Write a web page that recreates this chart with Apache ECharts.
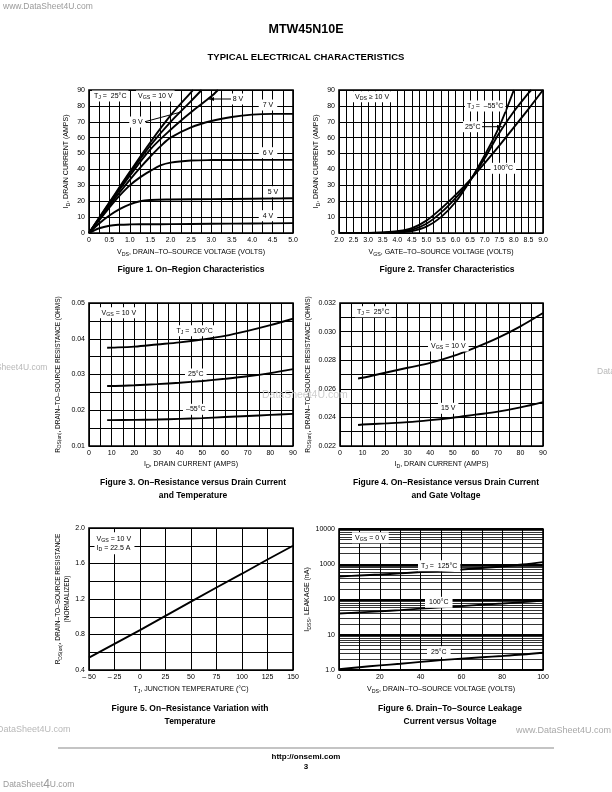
<!DOCTYPE html>
<html><head><meta charset="utf-8">
<script src="https://cdn.jsdelivr.net/npm/echarts@6/dist/echarts.min.js"></script>
<style>html,body{margin:0;padding:0;background:#fff}#c{width:612px;height:792px}</style>
</head><body><div id="c"></div>
<script>
// ---------- Figure 1: On-Region Characteristics ----------
const f1_xticks = ['0','0.5','1.0','1.5','2.0','2.5','3.0','3.5','4.0','4.5','5.0'];
const f1_yticks = ['0','10','20','30','40','50','60','70','80','90'];
const f1_vds_10 = [0,0.5,1.0,1.5,2.0,2.5,2.55];
const f1_id_10  = [0,19.3,38.5,57,74,88.5,90];
const f1_vds_9  = [0,0.5,1.0,1.5,2.0,2.5,2.76];
const f1_id_9   = [0,18.8,37.5,55,70,83,90];
const f1_vds_8  = [0,0.5,1.0,1.5,2.0,2.5,3.0,3.16];
const f1_id_8   = [0,18.2,36,52.5,65,76,86,90];
const f1_vds_7  = [0,0.25,0.5,0.75,1.0,1.25,1.5,1.75,2.0,2.5,3.0,3.5,4.0,4.5,5.0];
const f1_id_7   = [0,8.5,17.3,25.5,33.5,41,48,54.5,60,66.5,70.5,73,74.5,75,75];
const f1_vds_6  = [0,0.25,0.5,0.75,1.0,1.25,1.5,1.75,2.0,2.5,3.0,4.0,5.0];
const f1_id_6   = [0,8,16,23.5,30,35,39,42.5,44.3,45.6,45.9,46,46];
const f1_vds_5  = [0,0.25,0.5,0.75,1.0,1.25,1.5,2.0,3.0,4.0,5.0];
const f1_id_5   = [0,6,11,15,18,20,20.8,21.1,21.3,21.6,21.9];
const f1_vds_4  = [0,0.25,0.5,0.75,1.0,1.5,2.0,3.0,4.0,5.0];
const f1_id_4   = [0,3,4.6,5.2,5.4,5.5,5.6,5.8,6.0,6.2];

// ---------- Figure 2: Transfer Characteristics ----------
const f2_xticks = ['2.0','2.5','3.0','3.5','4.0','4.5','5.0','5.5','6.0','6.5','7.0','7.5','8.0','8.5','9.0'];
const f2_yticks = ['0','10','20','30','40','50','60','70','80','90'];
const f2_vgs_m55 = [2.0,2.5,3.0,3.5,4.0,4.5,5.0,5.5,6.0,6.5,7.0,7.5,8.0];
const f2_id_m55  = [0,0,0.05,0.1,0.3,1.2,4,10,19.5,33,49,67,90];
const f2_vgs_25  = [2.0,2.5,3.0,3.5,4.0,4.5,5.0,5.5,6.0,6.5,7.0,7.5,8.0,8.5,8.6];
const f2_id_25   = [0,0,0.05,0.2,0.6,2,5.8,12.8,22,33,47,63,76.5,88,90];
const f2_vgs_100 = [2.0,2.5,3.0,3.5,4.0,4.5,5.0,5.5,6.0,6.5,7.0,7.5,8.0,8.5,9.0];
const f2_id_100  = [0,0.05,0.1,0.4,1.1,3,7.8,15.3,24,33.5,44,55,66.5,78,90];

// ---------- Figure 3: RDS(on) vs ID and Temperature ----------
const f3_xticks = ['0','10','20','30','40','50','60','70','80','90'];
const f3_yticks = ['0.01','0.02','0.03','0.04','0.05'];
const f3_id   = [8,10,20,30,40,50,60,70,80,90];
const f3_r100 = [0.0375,0.03752,0.0378,0.0384,0.0390,0.0398,0.0408,0.0422,0.0438,0.0456];
const f3_r25  = [0.0268,0.0268,0.0270,0.0273,0.0277,0.0282,0.0288,0.0295,0.0304,0.0315];
const f3_rm55 = [0.01725,0.01725,0.0173,0.0174,0.0176,0.0178,0.0181,0.0184,0.0187,0.0190];

// ---------- Figure 4: RDS(on) vs ID and Gate Voltage ----------
const f4_xticks = ['0','10','20','30','40','50','60','70','80','90'];
const f4_yticks = ['0.022','0.024','0.026','0.028','0.030','0.032'];
const f4_id  = [8,10,20,30,40,50,60,70,80,90];
const f4_v10 = [0.02672,0.02677,0.02712,0.02747,0.02781,0.02828,0.02888,0.02956,0.03037,0.0313];
const f4_v15 = [0.02347,0.0235,0.02358,0.02367,0.02381,0.02398,0.02419,0.0244,0.0247,0.02507];

// ---------- Figure 5: RDS(on) vs Temperature ----------
const f5_xticks = ['\u2013 50','\u2013 25','0','25','50','75','100','125','150'];
const f5_yticks = ['0.4','0.8','1.2','1.6','2.0'];
const f5_tj = [-50,-25,0,25,50,75,100,125,150];
const f5_rn = [0.54,0.695,0.85,1.01,1.17,1.33,1.485,1.645,1.80];

// ---------- Figure 6: IDSS leakage vs VDS ----------
const f6_xticks = ['0','20','40','60','80','100'];
const f6_yticks = ['1.0','10','100','1000','10000'];
const f6_minor = [2,3,4,5,6,7,8,9,20,30,40,50,60,70,80,90,200,300,400,500,600,700,800,900,2000,3000,4000,5000,6000,7000,8000,9000];
const f6_vds  = [0,10,20,30,40,50,60,70,80,90,100];
const f6_i125 = [450,480,510,550,600,650,710,780,860,980,1150];
const f6_i100 = [40,43,46,50,55,60,65,71,77,84,93];
const f6_i25  = [1.05,1.2,1.35,1.5,1.7,1.9,2.1,2.3,2.5,2.75,3.1];

// ---------- helpers ----------
const FONT = '"Liberation Sans", Arial, Helvetica, sans-serif';
const pairs = (xs, ys) => xs.map((x, i) => [x, ys[i]]);
function rich(sz) {
  return {
    n: {fontSize: sz, fontFamily: FONT, color: '#000', lineHeight: sz + 2},
    s: {fontSize: sz * 0.75, fontFamily: FONT, color: '#000', lineHeight: 4, verticalAlign: 'bottom'}
  };
}
const GRID_LINE = {color: '#000', width: 1};
function axis(gi, o) {
  const a = {
    gridIndex: gi, type: o.type || 'value', min: o.min, max: o.max,
    axisLine: {show: false}, axisTick: {show: false},
    splitLine: {show: true, lineStyle: o.splitStyle || GRID_LINE},
    axisLabel: {fontSize: 7, color: '#000', fontFamily: FONT, margin: o.margin || 4,
      showMinLabel: true, showMaxLabel: true,
      formatter: (v, i) => o.ticks[i] !== undefined ? o.ticks[i] : ''},
    name: o.name, nameLocation: 'middle', nameGap: o.nameGap,
    nameTextStyle: {rich: rich(o.nameSize || 7), fontSize: o.nameSize || 7, lineHeight: 8},
    z: 1
  };
  if (o.interval !== undefined) a.interval = o.interval;
  if (o.logBase) a.logBase = o.logBase;
  if (o.minor) {
    a.minorTick = {show: false, splitNumber: o.minor};
    a.minorSplitLine = {show: true, lineStyle: GRID_LINE};
  }
  return a;
}
function line(gi, xs, ys, extra) {
  return Object.assign({
    type: 'line', xAxisIndex: gi, yAxisIndex: gi, data: pairs(xs, ys),
    showSymbol: false, symbol: 'none', smooth: 0.35, clip: true, silent: true,
    lineStyle: {color: '#000', width: 1.9}, z: 5
  }, extra || {});
}

const grids = [
  {left: 89, top: 90, width: 204, height: 143},
  {left: 339, top: 90, width: 204, height: 143},
  {left: 89, top: 303, width: 204, height: 143},
  {left: 340, top: 303, width: 203, height: 143},
  {left: 89, top: 528, width: 204, height: 142},
  {left: 339, top: 529, width: 204, height: 141}
].map(g => Object.assign(g, {show: true, borderColor: '#000', borderWidth: 1.6, backgroundColor: 'transparent', containLabel: false}));

const xAxes = [
  axis(0, {min: 0, max: 5, interval: 0.5, minor: 2, ticks: f1_xticks, nameGap: 15,
    name: '{n|V}{s|DS}{n|, DRAIN\u2013TO\u2013SOURCE VOLTAGE (VOLTS)}'}),
  axis(1, {min: 2, max: 9, interval: 0.5, minor: 2, ticks: f2_xticks, nameGap: 15,
    name: '{n|V}{s|GS}{n|, GATE\u2013TO\u2013SOURCE VOLTAGE (VOLTS)}'}),
  axis(2, {min: 0, max: 90, interval: 10, minor: 2, ticks: f3_xticks, nameGap: 14,
    name: '{n|I}{s|D}{n|, DRAIN CURRENT (AMPS)}'}),
  axis(3, {min: 0, max: 90, interval: 10, minor: 2, ticks: f4_xticks, nameGap: 14,
    name: '{n|I}{s|D}{n|, DRAIN CURRENT (AMPS)}'}),
  axis(4, {min: -50, max: 150, interval: 25, ticks: f5_xticks, nameGap: 15,
    name: '{n|T}{s|J}{n|, JUNCTION TEMPERATURE (\u00b0C)}'}),
  axis(5, {min: 0, max: 100, interval: 20, minor: 2, ticks: f6_xticks, nameGap: 15,
    name: '{n|V}{s|DS}{n|, DRAIN\u2013TO\u2013SOURCE VOLTAGE (VOLTS)}'})
];
const yAxes = [
  axis(0, {min: 0, max: 90, interval: 10, ticks: f1_yticks, nameGap: 18,
    name: '{n|I}{s|D}{n|, DRAIN CURRENT (AMPS)}'}),
  axis(1, {min: 0, max: 90, interval: 10, ticks: f2_yticks, nameGap: 18,
    name: '{n|I}{s|D}{n|, DRAIN CURRENT (AMPS)}'}),
  axis(2, {min: 0.01, max: 0.05, interval: 0.01, minor: 2, ticks: f3_yticks, nameGap: 27, nameSize: 6.5,
    name: '{n|R}{s|DS(on)}{n|, DRAIN\u2013TO\u2013SOURCE RESISTANCE (OHMS)}'}),
  axis(3, {min: 0.022, max: 0.032, interval: 0.002, minor: 2, ticks: f4_yticks, nameGap: 28, nameSize: 6.5,
    name: '{n|R}{s|DS(on)}{n|, DRAIN\u2013TO\u2013SOURCE RESISTANCE (OHMS)}'}),
  axis(4, {min: 0.4, max: 2.0, interval: 0.4, minor: 2, ticks: f5_yticks, nameGap: 17, nameSize: 6.5,
    name: '{n|R}{s|DS(on)}{n|, DRAIN\u2013TO\u2013SOURCE RESISTANCE}\n{n|(NORMALIZED)}'}),
  axis(5, {type: 'log', logBase: 10, min: 1, max: 10000, ticks: f6_yticks, nameGap: 16,
    splitStyle: {color: '#000', width: 1.8},
    name: '{n|I}{s|DSS}{n|, LEAKAGE (nA)}'})
];

const series = [
  line(0, f1_vds_10, f1_id_10), line(0, f1_vds_9, f1_id_9), line(0, f1_vds_8, f1_id_8),
  line(0, f1_vds_7, f1_id_7), line(0, f1_vds_6, f1_id_6), line(0, f1_vds_5, f1_id_5),
  line(0, f1_vds_4, f1_id_4),
  line(1, f2_vgs_m55, f2_id_m55), line(1, f2_vgs_25, f2_id_25), line(1, f2_vgs_100, f2_id_100),
  line(2, f3_id, f3_r100), line(2, f3_id, f3_r25), line(2, f3_id, f3_rm55),
  line(3, f4_id, f4_v10), line(3, f4_id, f4_v15),
  line(4, f5_tj, f5_rn, {smooth: false}),
  line(5, f6_vds, f6_i125), line(5, f6_vds, f6_i100),
  line(5, f6_vds, f6_i25, {markLine: {silent: true, symbol: 'none', label: {show: false}, animation: false,
    lineStyle: {color: '#000', width: 0.8, type: 'solid'}, z: 1,
    data: f6_minor.map(v => ({yAxis: v}))}})
];

// ---------- graphic annotations ----------
const G = [];
function txt(x, y, text, o) {
  o = o || {};
  const sz = o.size || 7;
  G.push({type: 'text', x: x, y: y, z: 100, silent: true, style: {
    text: text, rich: rich(sz), fontSize: sz, fontFamily: FONT, fontWeight: o.weight || 'normal',
    fill: o.color || '#000', align: o.align || 'left', textAlign: o.align || 'left',
    verticalAlign: 'middle', textVerticalAlign: 'middle',
    backgroundColor: o.bg === false ? undefined : '#fff', padding: o.pad || [1, 2, 1, 2]
  }});
}
function plain(x, y, text, o) {
  o = o || {};
  G.push({type: 'text', x: x, y: y, z: 100, silent: true, style: {
    text: text, fontSize: o.size || 8, fontFamily: FONT, fontWeight: o.weight || 'normal',
    fill: o.color || '#000', align: o.align || 'center', textAlign: o.align || 'center',
    verticalAlign: 'middle', textVerticalAlign: 'middle'
  }});
}
function arrowLine(x1, y1, x2, y2) {
  G.push({type: 'line', z: 100, silent: true, shape: {x1: x1, y1: y1, x2: x2, y2: y2}, style: {stroke: '#000', lineWidth: 1}});
  const ang = Math.atan2(y2 - y1, x2 - x1), L = 5, W = 2;
  const bx = x2 - L * Math.cos(ang), by = y2 - L * Math.sin(ang);
  G.push({type: 'polygon', z: 100, silent: true, shape: {points: [[x2, y2],
    [bx - W * Math.sin(ang), by + W * Math.cos(ang)], [bx + W * Math.sin(ang), by - W * Math.cos(ang)]]},
    style: {fill: '#000'}});
}

// page text
plain(3, 7, 'www.DataSheet4U.com', {align: 'left', size: 8.5, color: '#9a9a9a'});
plain(306, 30, 'MTW45N10E', {size: 12.5, weight: 'bold'});
plain(306, 57, 'TYPICAL ELECTRICAL CHARACTERISTICS', {size: 9.5, weight: 'bold'});

// Fig 1
txt(92, 96, '{n|T}{s|J}{n| =  25\u00b0C}');
txt(136, 96, '{n|V}{s|GS}{n| = 10 V}');
txt(238, 99, '{n|8 V}', {align: 'center', pad: [1, 4, 1, 4]});
arrowLine(231, 99, 209, 99);
txt(268, 105, '{n|7 V}', {align: 'center', pad: [1, 4, 1, 4]});
txt(137.5, 122, '{n|9 V}', {align: 'center', pad: [1, 3, 1, 3]});
G.push({type: 'line', z: 100, silent: true, shape: {x1: 145, y1: 121.7, x2: 181, y2: 112}, style: {stroke: '#000', lineWidth: 1}});
txt(268, 152.7, '{n|6 V}', {align: 'center', pad: [1, 4, 1, 4]});
txt(273, 191.7, '{n|5 V}', {align: 'center', pad: [1, 4, 1, 4]});
txt(268, 215.7, '{n|4 V}', {align: 'center', pad: [1, 4, 1, 4]});
plain(191, 270, 'Figure 1. On\u2013Region Characteristics', {size: 8.5, weight: 'bold'});

// Fig 2
txt(353, 96.7, '{n|V}{s|DS}{n| \u2265 10 V}');
txt(465, 106, '{n|T}{s|J}{n| =  \u201355\u00b0C}');
txt(463, 126.7, '{n|25\u00b0C}');
arrowLine(482, 126.7, 502, 126.7);
txt(490.5, 168.3, '{n|100\u00b0C}', {pad: [1, 3, 1, 3]});
plain(447, 270, 'Figure 2. Transfer Characteristics', {size: 8.5, weight: 'bold'});

// Fig 3
txt(99.5, 312.7, '{n|V}{s|GS}{n| = 10 V}');
txt(174.5, 330.7, '{n|T}{s|J}{n| =  100\u00b0C}');
txt(185, 374, '{n|25\u00b0C}', {pad: [1, 3, 1, 3]});
txt(183, 409.3, '{n|\u201355\u00b0C}', {pad: [1, 3, 1, 3]});
plain(193, 483, 'Figure 3. On\u2013Resistance versus Drain Current', {size: 8.5, weight: 'bold'});
plain(193, 496, 'and Temperature', {size: 8.5, weight: 'bold'});

// Fig 4
txt(355, 311.7, '{n|T}{s|J}{n| =  25\u00b0C}');
txt(428, 346, '{n|V}{s|GS}{n| = 10 V}', {pad: [1, 3, 1, 3]});
txt(438, 408.3, '{n|15 V}', {pad: [1, 3, 1, 3]});
plain(446, 483, 'Figure 4. On\u2013Resistance versus Drain Current', {size: 8.5, weight: 'bold'});
plain(446, 496, 'and Gate Voltage', {size: 8.5, weight: 'bold'});

// Fig 5
txt(94.5, 538.3, '{n|V}{s|GS}{n| = 10 V}', {pad: [2, 4, 1, 2]});
txt(94.5, 548.3, '{n|I}{s|D}{n| = 22.5 A}', {pad: [1, 4, 2, 2]});
plain(190, 709, 'Figure 5. On\u2013Resistance Variation with', {size: 8.5, weight: 'bold'});
plain(190, 722, 'Temperature', {size: 8.5, weight: 'bold'});

// Fig 6
txt(352, 537.7, '{n|V}{s|GS}{n| = 0 V}', {pad: [1, 3, 1, 3]});
txt(418, 565.7, '{n|T}{s|J}{n| =  125\u00b0C}', {pad: [1, 3, 1, 3]});
txt(425, 602.3, '{n|100\u00b0C}', {pad: [1, 4, 1, 4]});
txt(427, 651.7, '{n|25\u00b0C}', {pad: [1, 4, 1, 4]});
plain(450, 709, 'Figure 6. Drain\u2013To\u2013Source Leakage', {size: 8.5, weight: 'bold'});
plain(450, 722, 'Current versus Voltage', {size: 8.5, weight: 'bold'});

// footer
G.push({type: 'line', z: 100, silent: true, shape: {x1: 58, y1: 748, x2: 554, y2: 748}, style: {stroke: '#b0b0b0', lineWidth: 1.6}});
plain(306, 757, 'http://onsemi.com', {size: 8, weight: 'bold'});
plain(306, 767, '3', {size: 8, weight: 'bold'});

// watermarks
plain(-22, 368, 'DataSheet4U.com', {align: 'left', size: 8.5, color: '#b8b8b8'});
plain(597, 372, 'DataSheet4U.com', {align: 'left', size: 8.5, color: '#b8b8b8'});
plain(262, 395, 'DataSheet4U.com', {align: 'left', size: 10.5, color: '#cfcfcf'});
plain(-3, 730, 'DataSheet4U.com', {align: 'left', size: 9, color: '#b8b8b8'});
plain(516, 731, 'www.DataSheet4U.com', {align: 'left', size: 9, color: '#a8a8a8'});
G.push({type: 'text', x: 3, y: 785, z: 100, silent: true, style: {
  text: '{a|DataSheet}{b|4}{a|U.com}', rich: {a: {fontSize: 8.5, fontFamily: FONT, fill: '#9a9a9a', color: '#9a9a9a'}, b: {fontSize: 12, fontFamily: FONT, fill: '#9a9a9a', color: '#9a9a9a'}},
  verticalAlign: 'middle', textVerticalAlign: 'middle'}});

const chart = echarts.init(document.getElementById('c'), null, {renderer: 'canvas'});
chart.setOption({
  animation: false, backgroundColor: '#fff',
  grid: grids, xAxis: xAxes, yAxis: yAxes, series: series, graphic: {elements: G}
});
</script></body></html>
